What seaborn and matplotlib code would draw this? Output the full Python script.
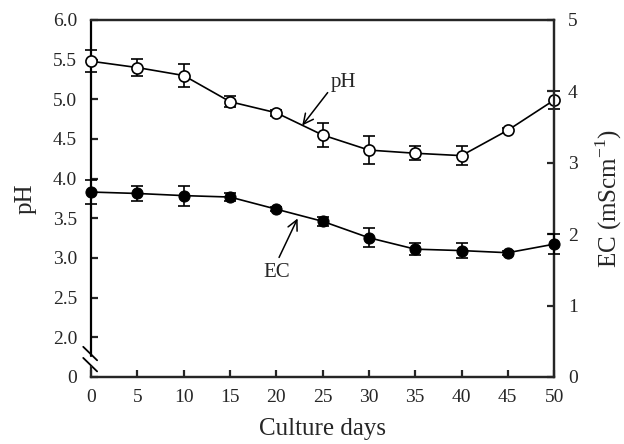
import numpy as np
import pandas as pd
import matplotlib
matplotlib.use("Agg")
import matplotlib.pyplot as plt
from matplotlib.lines import Line2D
import seaborn as sns

# --- data ---
days = [0, 5, 10, 15, 20, 25, 30, 35, 40, 45, 50]
ph = [5.48, 5.40, 5.30, 4.97, 4.83, 4.55, 4.36, 4.32, 4.29, 4.61, 4.99]
ph_err = [0.14, 0.11, 0.15, 0.07, 0.04, 0.15, 0.18, 0.09, 0.12, 0.03, 0.11]
ec = [2.59, 2.57, 2.54, 2.52, 2.35, 2.18, 1.95, 1.79, 1.77, 1.74, 1.86]
ec_err = [0.17, 0.10, 0.14, 0.06, 0.03, 0.06, 0.13, 0.08, 0.10, 0.03, 0.14]
ph_ticks = [1.5, 2.0, 2.5, 3.0, 3.5, 4.0, 4.5, 5.0, 5.5, 6.0]
ph_ticklabels = ["0", "2.0", "2.5", "3.0", "3.5", "4.0", "4.5", "5.0", "5.5", "6.0"]
ec_ticks = [0, 1, 2, 3, 4, 5]

df = pd.DataFrame({"day": days, "pH": ph, "pH_err": ph_err, "EC": ec, "EC_err": ec_err})

sns.set_style("ticks")
plt.rcParams["font.family"] = ["Liberation Serif", "DejaVu Serif"]
plt.rcParams["mathtext.fontset"] = "custom"
plt.rcParams["mathtext.rm"] = "Liberation Serif"

fig = plt.figure(figsize=(6.24, 4.44), dpi=100)
ax = fig.add_axes([0.146, 0.151, 0.742, 0.804])
ax2 = ax.twinx()

# pH (left axis, broken between 0 and 2.0)
ax.errorbar(df["day"], df["pH"], yerr=df["pH_err"], fmt="none", ecolor="black",
            elinewidth=1.2, capsize=4.5, capthick=1.2, clip_on=False, zorder=3)
sns.lineplot(data=df, x="day", y="pH", ax=ax, color="black", linewidth=1.2,
             marker="o", markersize=8, markerfacecolor="white",
             markeredgecolor="black", markeredgewidth=1.2, clip_on=False, zorder=4)

# EC (right axis)
ax2.errorbar(df["day"], df["EC"], yerr=df["EC_err"], fmt="none", ecolor="black",
             elinewidth=1.2, capsize=4.5, capthick=1.2, clip_on=False, zorder=3)
sns.lineplot(data=df, x="day", y="EC", ax=ax2, color="black", linewidth=1.2,
             marker="o", markersize=8, markerfacecolor="black",
             markeredgecolor="black", clip_on=False, zorder=4)

ax.set_xlim(0, 50)
ax.set_ylim(1.5, 6.0)
ax2.set_ylim(0, 5)
ax.set_xticks(range(0, 51, 5))
ax.set_yticks(ph_ticks)
ax.set_yticklabels(ph_ticklabels)
ax2.set_yticks(ec_ticks)

for a in (ax, ax2):
    for s in a.spines.values():
        s.set_linewidth(1.6)
        s.set_visible(True)
    a.tick_params(direction="in", length=5, width=1.6, labelsize=14, pad=10)
ax.tick_params(axis="x", pad=9)
ax2.spines["left"].set_visible(False)

ax.set_xlabel("Culture days", fontsize=18, labelpad=8)
ax.set_ylabel("pH", fontsize=18, labelpad=12)
ax2.set_ylabel("EC (mScm$^{\\mathregular{-1}}$)", fontsize=18, labelpad=11)

# axis break on left spine
ax.spines["left"].set_bounds(1.5, 1.62)
trans = ax.get_yaxis_transform()
ax.add_line(Line2D([0, 0], [1.76, 6.0], transform=trans, color="black",
                   linewidth=1.6, clip_on=False))
for y0 in (1.86, 1.72):
    ax.add_line(Line2D([-0.017, 0.013], [y0 + 0.02, y0 - 0.15], transform=trans,
                       color="black", linewidth=1.3, clip_on=False))

# annotations
ax.annotate("pH", xy=(22.8, 4.67), xytext=(25.9, 5.21), fontsize=15,
            va="center", ha="left",
            arrowprops=dict(arrowstyle="->", color="black", lw=1.1,
                            shrinkA=0, shrinkB=0, relpos=(0, 0.2),
                            mutation_scale=18))
ax2.annotate("EC", xy=(22.3, 2.22), xytext=(20.0, 1.46), fontsize=15,
             va="center", ha="center",
             arrowprops=dict(arrowstyle="->", color="black", lw=1.1,
                             shrinkA=2, shrinkB=0, relpos=(0.5, 1.0),
                             mutation_scale=18))

fig.savefig("out.png", dpi=100)
